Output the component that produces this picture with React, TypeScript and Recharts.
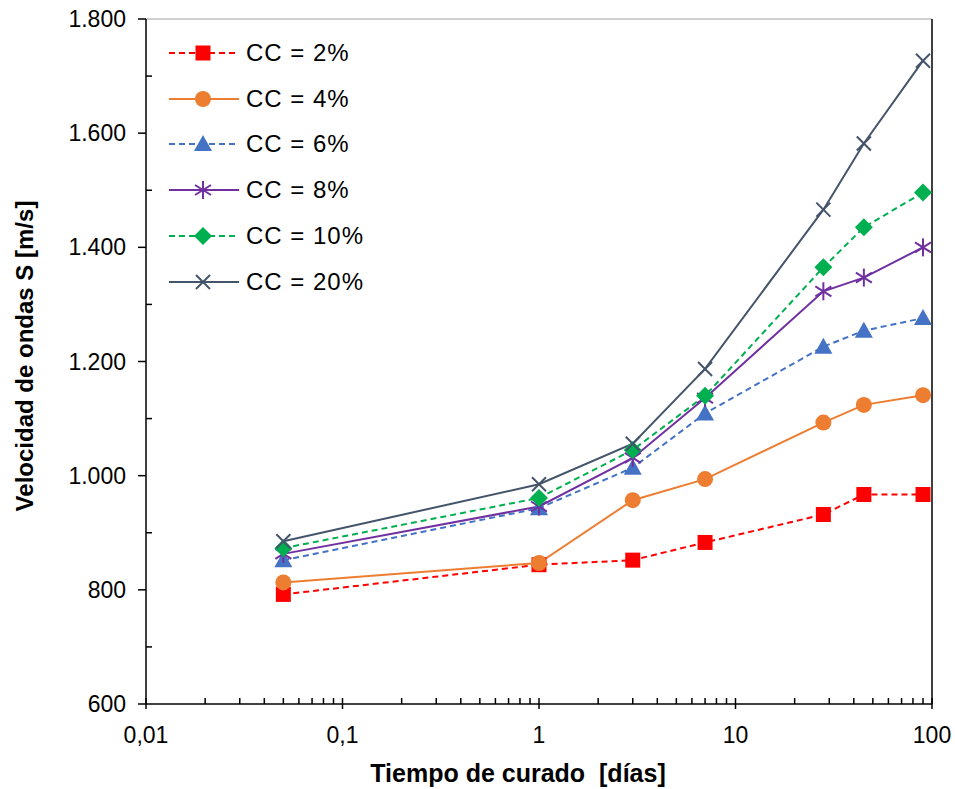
import React from 'react';
import { LineChart, Line, XAxis, YAxis, ReferenceLine, Legend, Label } from 'recharts';

// curing time (days)
const days = [0.05, 1, 3, 7, 28, 45, 90];

// S-wave velocity (m/s) per cement content
const cc2 = [792, 844, 852, 883, 932, 967, 967];
const cc4 = [813, 847, 957, 994, 1093, 1124, 1141];
const cc6 = [852, 943, 1014, 1109, 1226, 1254, 1276];
const cc8 = [863, 946, 1031, 1136, 1323, 1347, 1400];
const cc10 = [873, 961, 1045, 1140, 1365, 1435, 1496];
const cc20 = [885, 985, 1056, 1187, 1466, 1582, 1727];

const xMajor = [0.01, 0.1, 1, 10, 100];
const xLabels = ['0,01', '0,1', '1', '10', '100'];
const yMajor = [600, 800, 1000, 1200, 1400, 1600, 1800];
const yLabels = ['600', '800', '1.000', '1.200', '1.400', '1.600', '1.800'];
const yMinor = [700, 900, 1100, 1300, 1500, 1700];

const xMinor: number[] = [];
xMajor.slice(0, -1).forEach((d) => {
  for (let k = 2; k <= 9; k++) xMinor.push(+(d * k).toPrecision(3));
});

const series = [
  { key: 'cc2', name: 'CC = 2%', values: cc2, color: '#FF0000', dash: '6 4', marker: 'square' },
  { key: 'cc4', name: 'CC = 4%', values: cc4, color: '#ED7D31', dash: undefined, marker: 'circle' },
  { key: 'cc6', name: 'CC = 6%', values: cc6, color: '#4472C4', dash: '6 4', marker: 'triangle' },
  { key: 'cc8', name: 'CC = 8%', values: cc8, color: '#7030A0', dash: undefined, marker: 'star' },
  { key: 'cc10', name: 'CC = 10%', values: cc10, color: '#00B050', dash: '6 4', marker: 'diamond' },
  { key: 'cc20', name: 'CC = 20%', values: cc20, color: '#44546A', dash: undefined, marker: 'cross' },
];

const data = days.map((d, i) => {
  const row: Record<string, number> = { x: d };
  series.forEach((s) => (row[s.key] = s.values[i]));
  return row;
});

const FONT = '"Liberation Sans", Arial, sans-serif';

const Marker = ({ type, cx, cy, color }: { type: string; cx: number; cy: number; color: string }) => {
  switch (type) {
    case 'square':
      return <rect x={cx - 7.5} y={cy - 7.5} width={15} height={15} fill={color} />;
    case 'circle':
      return <circle cx={cx} cy={cy} r={8} fill={color} />;
    case 'triangle':
      return <polygon points={`${cx},${cy - 9} ${cx + 9},${cy + 7} ${cx - 9},${cy + 7}`} fill={color} />;
    case 'diamond':
      return <polygon points={`${cx},${cy - 9} ${cx + 9},${cy} ${cx},${cy + 9} ${cx - 9},${cy}`} fill={color} />;
    case 'star':
      return (
        <g stroke={color} strokeWidth={2}>
          <line x1={cx} y1={cy - 9} x2={cx} y2={cy + 9} />
          <line x1={cx - 8} y1={cy - 5} x2={cx + 8} y2={cy + 5} />
          <line x1={cx - 8} y1={cy + 5} x2={cx + 8} y2={cy - 5} />
        </g>
      );
    default:
      return (
        <g stroke={color} strokeWidth={2}>
          <line x1={cx - 7} y1={cy - 7} x2={cx + 7} y2={cy + 7} />
          <line x1={cx - 7} y1={cy + 7} x2={cx + 7} y2={cy - 7} />
        </g>
      );
  }
};

const XTick = (props: any) => {
  const { x, y, payload } = props;
  const idx = xMajor.indexOf(payload.value);
  if (idx < 0) {
    return <line x1={x} x2={x} y1={y} y2={y - 6} stroke="#000" strokeWidth={1.5} />;
  }
  return (
    <g>
      <line x1={x} x2={x} y1={y - 6} y2={y + 5} stroke="#000" strokeWidth={1.5} />
      <text x={x} y={y + 39} textAnchor="middle" fontSize={23} fontFamily={FONT} fill="#000">
        {xLabels[idx]}
      </text>
    </g>
  );
};

const YTick = (props: any) => {
  const { x, y, payload } = props;
  const idx = yMajor.indexOf(payload.value);
  if (idx < 0) {
    return <line x1={x} x2={x + 6} y1={y} y2={y} stroke="#000" strokeWidth={1.5} />;
  }
  return (
    <g>
      <line x1={x - 8} x2={x} y1={y} y2={y} stroke="#000" strokeWidth={1.5} />
      <text x={x - 20} y={y + 8} textAnchor="end" fontSize={23} fontFamily={FONT} fill="#000">
        {yLabels[idx]}
      </text>
    </g>
  );
};

const LegendBox = () => (
  <div style={{ fontFamily: FONT }}>
    {series.map((s) => (
      <div key={s.key} style={{ display: 'flex', alignItems: 'center', height: 45.8 }}>
        <svg width={77} height={24}>
          <line x1={0} x2={70} y1={12} y2={12} stroke={s.color} strokeWidth={2} strokeDasharray={s.dash} />
          <Marker type={s.marker} cx={34} cy={12} color={s.color} />
        </svg>
        <span style={{ fontSize: 24, letterSpacing: 1, color: '#000' }}>{s.name}</span>
      </div>
    ))}
  </div>
);

export default function App() {
  return (
    <div style={{ position: 'absolute', left: 0, top: 0, background: '#fff' }}>
      <LineChart width={955} height={789} data={data} margin={{ top: 19, right: 23, left: 0, bottom: 0 }}>
        <ReferenceLine y={1800} stroke="#BFBFBF" strokeWidth={1.5} />
        <ReferenceLine x={100} stroke="#000" strokeWidth={1.5} />
        <XAxis
          dataKey="x"
          type="number"
          scale="log"
          domain={[0.01, 100]}
          ticks={[...xMajor, ...xMinor]}
          interval={0}
          tick={<XTick />}
          tickLine={false}
          tickSize={0}
          tickMargin={0}
          height={85}
          axisLine={{ stroke: '#000', strokeWidth: 1.5 }}
          allowDataOverflow
        >
          <Label
            content={() => (
              <text x={518} y={782} textAnchor="middle" fontSize={25} fontWeight="bold" fontFamily={FONT} fill="#000" style={{ whiteSpace: 'pre' }}>
                {'Tiempo de curado  [días]'}
              </text>
            )}
          />
        </XAxis>
        <YAxis
          type="number"
          domain={[600, 1800]}
          ticks={[...yMajor, ...yMinor]}
          interval={0}
          tick={<YTick />}
          tickLine={false}
          tickSize={0}
          tickMargin={0}
          width={146}
          axisLine={{ stroke: '#000', strokeWidth: 1.5 }}
          allowDataOverflow
        >
          <Label
            content={() => (
              <text
                x={0}
                y={0}
                transform="translate(33 356) rotate(-90)"
                textAnchor="middle"
                fontSize={24}
                fontWeight="bold"
                fontFamily={FONT}
                fill="#000"
              >
                Velocidad de ondas S [m/s]
              </text>
            )}
          />
        </YAxis>
        <Legend
          layout="vertical"
          verticalAlign="middle"
          align="center"
          content={<LegendBox />}
          wrapperStyle={{ left: 169, top: 30, width: 260 }}
        />
        {series.map((s) => (
          <Line
            key={s.key}
            dataKey={s.key}
            name={s.name}
            stroke={s.color}
            strokeWidth={2}
            strokeDasharray={s.dash}
            isAnimationActive={false}
            dot={(p: any) => <Marker key={`${s.key}-${p.index}`} type={s.marker} cx={p.cx} cy={p.cy} color={s.color} />}
            activeDot={false}
          />
        ))}
      </LineChart>
    </div>
  );
}
